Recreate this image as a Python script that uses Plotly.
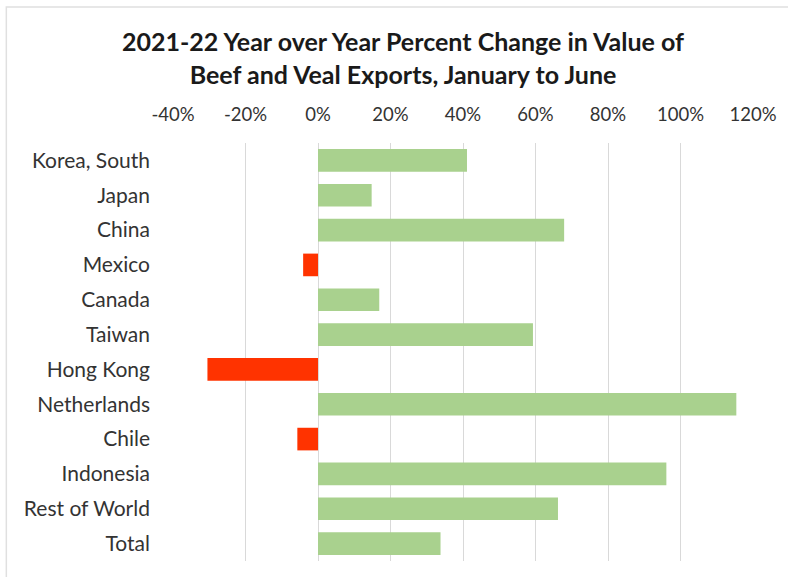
import plotly.graph_objects as go

categories = ["Korea, South", "Japan", "China", "Mexico", "Canada", "Taiwan",
              "Hong Kong", "Netherlands", "Chile", "Indonesia", "Rest of World", "Total"]
pct_change = [41.1, 14.8, 67.9, -4.1, 16.9, 59.3, -30.5, 115.4, -5.7, 96.1, 66.2, 33.8]
tick_vals = [-40, -20, 0, 20, 40, 60, 80, 100, 120]
tick_text = ["-40%", "-20%", "0%", "20%", "40%", "60%", "80%", "100%", "120%"]

GREEN = "#A9D18E"
RED = "#FF3300"
colors = [GREEN if v >= 0 else RED for v in pct_change]

W, H = 788, 577
fig = go.Figure(go.Bar(
    y=categories, x=pct_change, orientation="h",
    marker=dict(color=colors, line=dict(width=0)),
    width=0.65,
))

fig.update_layout(
    width=W, height=H,
    paper_bgcolor="white", plot_bgcolor="white",
    margin=dict(l=172.7, r=35.2, t=142.6, b=16.4),
    showlegend=False,
    font=dict(family="Lato, Carlito, sans-serif", color="#333333"),
    title=dict(
        text="<b>2021-22 Year over Year Percent Change in Value of<br>Beef and Veal Exports, January to June</b>",
        x=403 / W, xanchor="center", xref="container",
        y=1 - 51 / H, yanchor="middle", yref="container",
        font=dict(size=25, color="#1a1a1a", family="Lato, sans-serif"),
    ),
    xaxis=dict(
        side="top", range=[-40, 120],
        tickvals=tick_vals, ticktext=tick_text,
        showgrid=True, gridcolor="#d9d9d9", gridwidth=1,
        zeroline=False, showline=False, ticks="",
        tickfont=dict(size=18.5, color="#333333"),
        ticklabelstandoff=17,
        fixedrange=True,
    ),
    yaxis=dict(
        autorange="reversed", showgrid=False, zeroline=False, showline=False,
        ticks="", tickfont=dict(size=21, color="#333333"),
        ticklabelstandoff=22,
    ),
    shapes=[dict(
        type="rect", xref="paper", yref="paper",
        x0=(6 - 172.7) / (W - 172.7 - 35.2), x1=(800 - 172.7) / (W - 172.7 - 35.2),
        y0=(H - 16.4 - 590) / (H - 142.6 - 16.4), y1=(H - 16.4 - 6.5) / (H - 142.6 - 16.4),
        line=dict(color="#e0e0e0", width=1.5), fillcolor="rgba(0,0,0,0)", layer="below",
    )],
)

fig.write_html("out.html")
